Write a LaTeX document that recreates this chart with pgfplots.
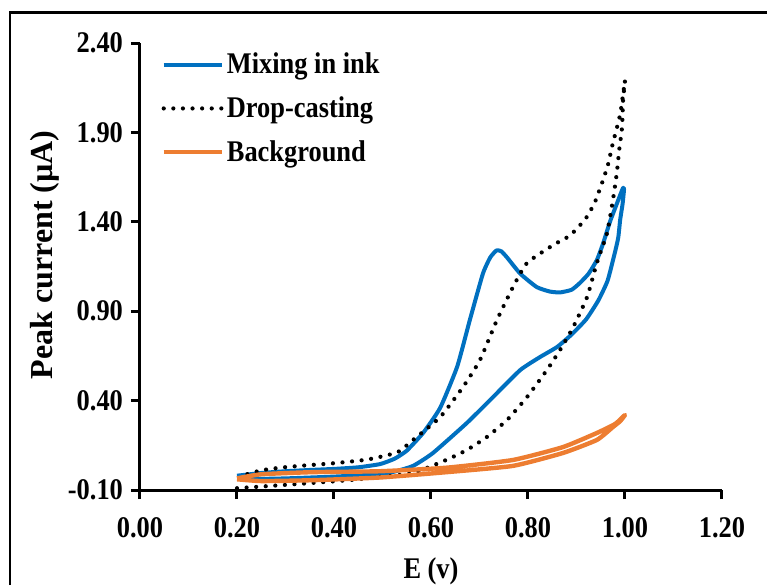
\documentclass[border=0pt]{standalone}
\usepackage{fontspec}
\setmainfont{Liberation Serif}
\newfontfamily\tnr{Liberation Serif}[FakeStretch=0.88]
\usepackage{pgfplots}
\pgfplotsset{compat=1.18}
\definecolor{inkblue}{RGB}{0,112,192}
\definecolor{bgorange}{RGB}{237,125,49}

\begin{document}
\begin{tikzpicture}
\useasboundingbox (0,0) rectangle (383.5pt,-292.5pt);
% outer frame (left and top only, the rest is cropped)
\draw[line width=1.4pt] (5pt,-292.5pt) -- (5pt,-6.2pt) -- (383.5pt,-6.2pt);
\begin{axis}[
  at={(70pt,-245pt)}, anchor=south west,
  scale only axis, width=291pt, height=223.5pt,
  xmin=0, xmax=1.2, ymin=-0.1, ymax=2.4,
  axis lines*=left,
  axis line style={line width=1.5pt, -},
  tick align=outside, major tick length=4.5pt,
  tick style={line width=1.5pt, black},
  xtick={0,0.2,0.4,0.6,0.8,1.0,1.2},
  xticklabels={0.00,0.20,0.40,0.60,0.80,1.00,1.20},
  ytick={-0.1,0.4,0.9,1.4,1.9,2.4},
  yticklabels={-0.10,0.40,0.90,1.40,1.90,2.40},
  ticklabel style={font=\tnr\bfseries\fontsize{15}{17}\selectfont},
  xticklabel style={yshift=-5.5pt},
  yticklabel style={xshift=-0.5pt},
  xlabel={E (v)},
  xlabel style={font=\tnr\bfseries\fontsize{15}{17}\selectfont, at={(axis description cs:0.5,-0.197)}, anchor=base},
  ylabel={Peak current (\textmu A)},
  ylabel style={font=\bfseries\fontsize{16}{18}\selectfont, at={(axis description cs:-0.163,0.526)}, anchor=center},
  legend cell align=left,
  legend style={at={(axis description cs:0.037,0.985)}, anchor=north west,
    draw=none, fill=none, inner sep=0pt, outer sep=0pt,
    font=\tnr\bfseries\fontsize{15}{18}\selectfont, row sep=7pt,
    nodes={inner sep=1.5pt}},
  legend image code/.code={\draw[#1] (0pt,0pt) -- (29pt,0pt);},
]
% Mixing in ink
\addplot[inkblue, line width=2pt, mark=none, smooth, tension=0.3, line join=round] coordinates {
(0.20,-0.02) (0.25,-0.005) (0.30,0.005) (0.35,0.012) (0.40,0.018) (0.45,0.027)
(0.495,0.045) (0.525,0.075) (0.55,0.12) (0.584,0.22) (0.619,0.36) (0.654,0.59)
(0.68,0.85) (0.707,1.11) (0.722,1.20) (0.735,1.24) (0.745,1.235) (0.757,1.20)
(0.784,1.11) (0.818,1.035) (0.845,1.01) (0.866,1.005) (0.89,1.02) (0.907,1.058)
(0.925,1.11) (0.942,1.186) (0.955,1.28) (0.969,1.40) (0.983,1.50) (0.996,1.59)
(0.998,1.58) (0.995,1.50) (0.99,1.41) (0.986,1.31) (0.978,1.215) (0.964,1.07)
(0.945,0.96) (0.92,0.855) (0.89,0.77) (0.86,0.70) (0.825,0.644) (0.784,0.571) (0.728,0.42)
(0.674,0.275) (0.604,0.107) (0.563,0.035) (0.52,0.0) (0.47,-0.015) (0.40,-0.025)
(0.30,-0.035) (0.21,-0.04)
};
\addlegendentry{Mixing in ink}
% Drop-casting
\addplot[black, line width=2.1pt, mark=none, line cap=round, dash pattern=on 0pt off 4.8pt, smooth, tension=0.3] coordinates {
(0.20,-0.09) (0.28,-0.075) (0.357,-0.06) (0.43,-0.045) (0.495,-0.027) (0.563,-0.005)
(0.633,0.07) (0.674,0.124) (0.715,0.196) (0.757,0.292) (0.798,0.42) (0.839,0.571)
(0.866,0.683) (0.893,0.81) (0.922,0.98) (0.942,1.17) (0.963,1.337) (0.975,1.52)
(0.983,1.67) (0.988,1.80) (0.994,1.93) (0.996,2.08) (1.0,2.19)
(0.99,2.0) (0.975,1.84) (0.965,1.72) (0.953,1.62) (0.938,1.51) (0.922,1.43)
(0.907,1.38) (0.893,1.34) (0.882,1.315) (0.852,1.27) (0.798,1.17) (0.769,1.035)
(0.736,0.851) (0.701,0.627) (0.666,0.476) (0.619,0.308) (0.563,0.18) (0.53,0.11)
(0.468,0.07) (0.40,0.05) (0.33,0.035) (0.29,0.025) (0.25,0.01) (0.21,-0.02)
};
\addlegendentry{Drop-casting}
% Background
\addplot[bgorange, line width=2.2pt, mark=none, smooth, tension=0.3, line join=round] coordinates {
(0.20,-0.035) (0.25,-0.012) (0.357,0.0) (0.495,0.005) (0.633,0.025) (0.769,0.068)
(0.872,0.14) (0.942,0.219) (0.98,0.27) (1.0,0.32)
(0.99,0.285) (0.975,0.252) (0.942,0.18) (0.872,0.107) (0.769,0.035) (0.633,0.0)
(0.495,-0.03) (0.357,-0.045) (0.25,-0.05) (0.20,-0.04)
};
\addlegendentry{Background}
\end{axis}
\end{tikzpicture}
\end{document}
